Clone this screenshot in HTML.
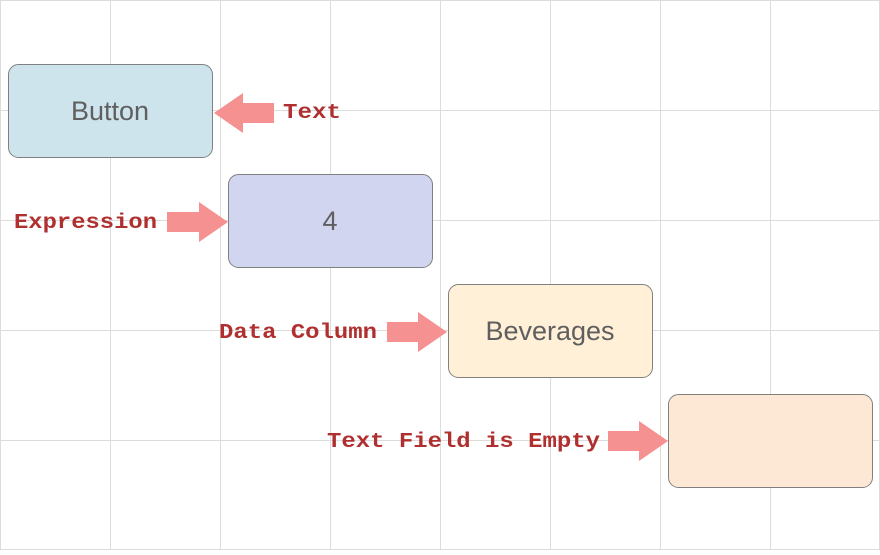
<!DOCTYPE html>
<html><head><style>
body{margin:0;width:880px;height:550px;background:#fff;overflow:hidden;font-family:"Liberation Sans",sans-serif}
</style></head><body>
<svg width="880" height="550" xmlns="http://www.w3.org/2000/svg">
<g stroke="#dcdcdc" stroke-width="1">
<line x1="110.5" y1="0" x2="110.5" y2="550"/><line x1="220.5" y1="0" x2="220.5" y2="550"/>
<line x1="330.5" y1="0" x2="330.5" y2="550"/><line x1="440.5" y1="0" x2="440.5" y2="550"/>
<line x1="550.5" y1="0" x2="550.5" y2="550"/><line x1="660.5" y1="0" x2="660.5" y2="550"/>
<line x1="770.5" y1="0" x2="770.5" y2="550"/><line x1="0.5" y1="0" x2="0.5" y2="550"/><line x1="879.5" y1="0" x2="879.5" y2="550"/>
<line x1="0" y1="0.5" x2="880" y2="0.5"/><line x1="0" y1="110.5" x2="880" y2="110.5"/>
<line x1="0" y1="220.5" x2="880" y2="220.5"/><line x1="0" y1="330.5" x2="880" y2="330.5"/>
<line x1="0" y1="440.5" x2="880" y2="440.5"/><line x1="0" y1="549.5" x2="880" y2="549.5"/>
</g>
<g stroke="#808080" stroke-width="1">
<rect x="8.5" y="64.5" width="204" height="93" rx="10" fill="#cde4ed"/>
<rect x="228.5" y="174.5" width="204" height="93" rx="10" fill="#d1d5ef"/>
<rect x="448.5" y="284.5" width="204" height="93" rx="10" fill="#fff0d7"/>
<rect x="668.5" y="394.5" width="204" height="93" rx="10" fill="#fde8d6"/>
</g>
<g font-family="Liberation Sans, sans-serif" font-size="27" fill="#5f5f5f" text-anchor="middle">
<text x="110" y="120">Button</text>
<text x="330" y="230">4</text>
<text x="550" y="340">Beverages</text>
</g>
<g fill="#f59191">
<polygon points="214,113 243,93 243,103 274,103 274,123 243,123 243,133"/>
<polygon points="228,222 199,202 199,212 167,212 167,232 199,232 199,242"/>
<polygon points="447,332 418,312 418,322 387,322 387,342 418,342 418,352"/>
<polygon points="668,441 639,421 639,431 608,431 608,451 639,451 639,461"/>
</g>
<g font-family="Liberation Mono, monospace" font-size="21" font-weight="bold" fill="#b03030" lengthAdjust="spacingAndGlyphs">
<text x="283" y="118" textLength="58" lengthAdjust="spacingAndGlyphs">Text</text>
<text x="14" y="228" textLength="143" lengthAdjust="spacingAndGlyphs">Expression</text>
<text x="219" y="338" textLength="158" lengthAdjust="spacingAndGlyphs">Data Column</text>
<text x="327" y="447" textLength="273" lengthAdjust="spacingAndGlyphs">Text Field is Empty</text>
</g>
</svg>
</body></html>
